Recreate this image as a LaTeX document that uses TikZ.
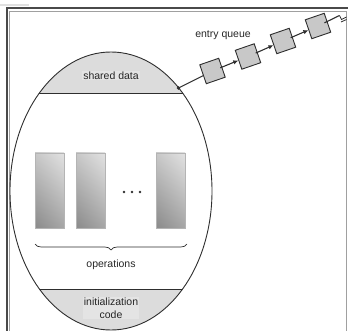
\documentclass[tikz,border=0pt]{standalone}
\usepackage{fontspec}
\setmainfont{Liberation Sans}
\usetikzlibrary{arrows.meta,calc,decorations.pathreplacing,shadings}

\definecolor{framedark}{HTML}{4A4A4A}
\definecolor{framelight}{HTML}{A0A0A0}
\definecolor{regionfill}{HTML}{DCDCDC}
\definecolor{labelbg}{HTML}{E4E4E4}
\definecolor{queuefill}{HTML}{C8C8C8}
\definecolor{inkline}{HTML}{2E2E2E}
\definecolor{opUL}{HTML}{C8C8C8}
\definecolor{opUR}{HTML}{E2E2E2}
\definecolor{opLL}{HTML}{8A8A8A}
\definecolor{opLR}{HTML}{A6A6A6}
\definecolor{opedge}{HTML}{B4B4B4}

\tikzset{
  lbl/.style={font=\fontsize{10.5}{12.5}\selectfont, text=black!85, inner sep=1pt, align=center},
  qbox/.style={draw=inkline, line width=0.9pt, fill=queuefill, minimum width=20pt,
               minimum height=20pt, inner sep=0pt, rotate=19},
  qlink/.style={draw=inkline, line width=1.1pt},
  qarrow/.style={qlink, -{Latex[length=5pt,width=4.5pt]}},
  opbox/.style={draw=opedge, line width=0.6pt, upper left=opUL, upper right=opUR,
                lower left=opLL, lower right=opLR},
}

\begin{document}
\begin{tikzpicture}[x=1pt,y=-1pt]
\useasboundingbox (0,0) rectangle (348,331);

% page frame
\fill[black!12] (0,4.5) rectangle (29,6.2);
\draw[framedark, line width=2pt] (348,8) -- (7,8) -- (7,331);
\draw[framelight, line width=0.9pt] (9.8,331) -- (9.8,11) -- (346.5,11) -- (346.5,331);

% monitor body: shaded header and footer regions
\begin{scope}
  \clip (111,191) ellipse [x radius=101pt, y radius=139pt];
  \fill[regionfill] (0,40) rectangle (348,93);
  \fill[regionfill] (0,289) rectangle (348,340);
  \draw[inkline, line width=0.8pt] (0,93) -- (348,93);
  \draw[inkline, line width=0.8pt] (0,289) -- (348,289);
\end{scope}
\draw[inkline, line width=0.9pt] (111,191) ellipse [x radius=101pt, y radius=139pt];

\node[lbl, fill=labelbg] (shared) at (111,75.5) {shared data};
\node[lbl, fill=labelbg] (init) at (111,308) {initialization\\code};

% operations
\shade[opbox] (35,153) rectangle (64,228);
\shade[opbox] (76,153) rectangle (105,228);
\shade[opbox] (156,153) rectangle (185,228);
\foreach \x in {124,132,140} \fill[inkline] (\x,192) circle (1.3pt);
\draw[inkline, line width=0.7pt, decorate, decoration={brace, amplitude=6pt, mirror}]
  (35,244) -- (187,244);
\node[lbl] (ops) at (111,265) {operations};

% entry queue
\coordinate (door) at (178.5,88);
\fill[inkline] (door) circle (1.8pt);
\node[qbox] (b1) at (212.5,71) {};
\node[qbox] (b2) at (248,56.5) {};
\node[qbox] (b3) at (283,41) {};
\node[qbox] (b4) at (318,26) {};
\node[lbl] (eq) at (223,35) {entry queue};

\draw[qlink] (door) -- (b1);
\draw[qarrow] ($(b1.center)!0.22!(b2.center)$) -- (b2);
\draw[qarrow] ($(b2.center)!0.22!(b3.center)$) -- (b3);
\draw[qarrow] ($(b3.center)!0.22!(b4.center)$) -- (b4);
\coordinate (tail) at (339.5,15.5);
\draw[qlink] ($(b4.center)!0.3!(tail)$) -- (tail);
\draw[inkline, line width=0.8pt] (tail) -- (341.5,19.5) -- (346.5,17);
\draw[inkline, line width=0.8pt] (341,22) -- (346.5,19.5);
\end{tikzpicture}
\end{document}
